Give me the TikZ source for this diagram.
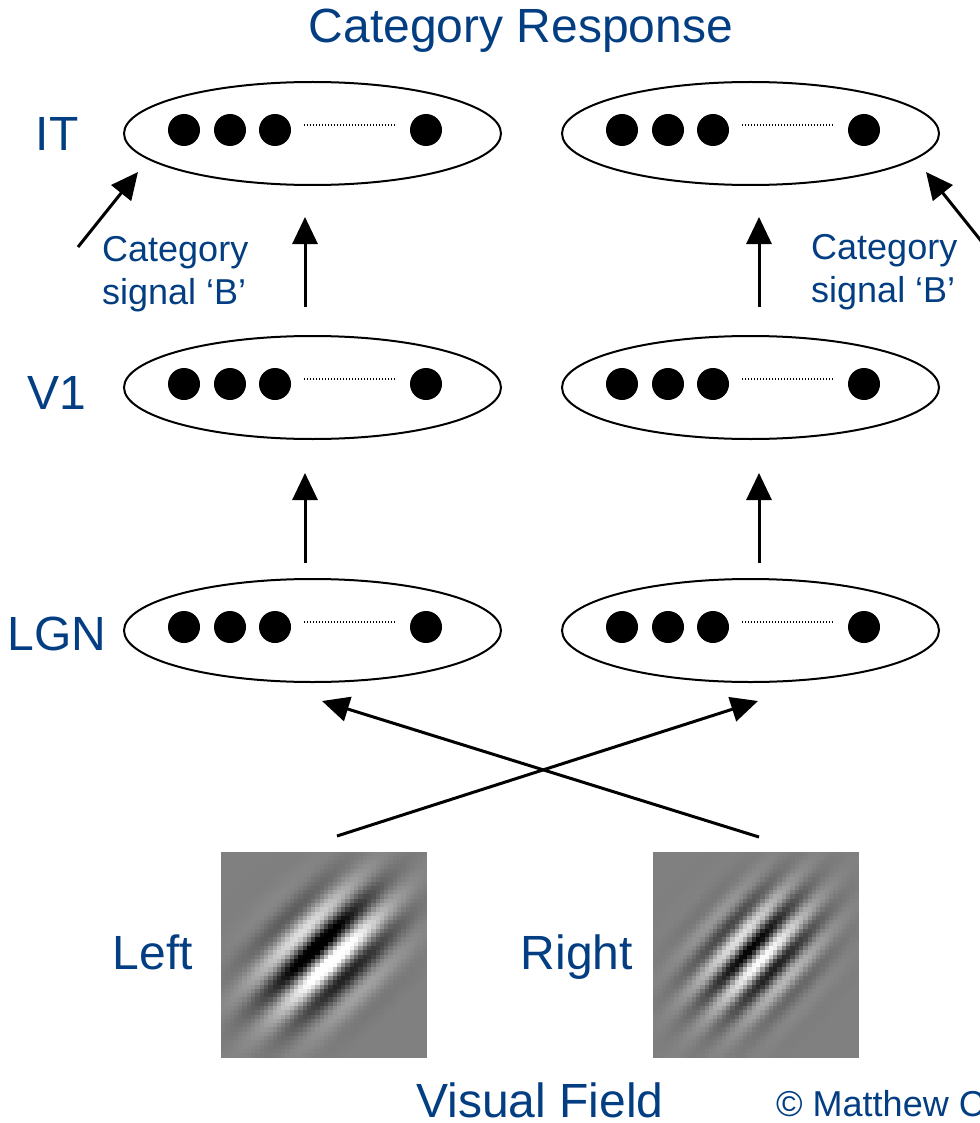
\documentclass[tikz,border=0pt]{standalone}
\usepackage{fontspec}
\setmainfont{Liberation Sans}
\usetikzlibrary{arrows.meta,shapes.geometric}
\definecolor{labelblue}{RGB}{4,62,130}

% Gabor patch drawn as a grid of grey cells.
% #1,#2 centre; #3 wavelength; #4 stripe angle; #5 sigma across; #6 sigma along; #7 amplitude
\newcommand\gaborpatch[7]{%
  \pgfmathsetmacro\gbK{360/#3}%
  \pgfmathsetmacro\gbS{sin(#4)}%
  \pgfmathsetmacro\gbC{cos(#4)}%
  \begin{scope}
    \clip (#1-103,#2-103) rectangle (#1+103,#2+103);
    \fill[black!50] (#1-103,#2-103) rectangle (#1+103,#2+103);
    \foreach \i in {0,...,47}{
      \pgfmathsetmacro\gbX{(\i-23.5)*4.2917}
      \foreach \j in {0,...,47}{
        \pgfmathsetmacro\gbY{(\j-23.5)*4.2917}
        \pgfmathsetmacro\gbU{\gbX*\gbS+\gbY*\gbC}
        \pgfmathsetmacro\gbV{\gbX*\gbC-\gbY*\gbS}
        \pgfmathsetmacro\gbL{max(0,min(1,0.5+#7*exp(-0.5*((\gbU/#5)^2+(\gbV/#6)^2))*sin(\gbK*\gbU)))}
        \definecolor{gcell}{gray}{\gbL}
        \fill[gcell] (#1+\gbX-2.15,#2+\gbY-2.15) rectangle ++(4.6,4.6);
      }
    }
  \end{scope}
}

\begin{document}
\begin{tikzpicture}[x=1pt,y=-1pt,
  layer/.style={draw, line width=2pt, ellipse, minimum width=377pt, minimum height=103pt, inner sep=0pt},
  unit/.style={circle, fill=black, minimum size=32pt, inner sep=0pt},
  dotline/.style={line width=1.2pt, dash pattern=on 1pt off 2pt},
  arr/.style={line width=3pt, -{Triangle[length=27pt,width=25pt]}},
  biglabel/.style={text=labelblue, font=\fontsize{48}{58}\selectfont, anchor=base, inner sep=0pt},
  smalllabel/.style={text=labelblue, font=\fontsize{36}{43}\selectfont, anchor=base west, inner sep=0pt}
]
\useasboundingbox (0,0) rectangle (979,1123);

% layers of units
\node[layer] (itL)  at (312.5,133.5) {};
\node[layer] (itR)  at (750.5,133.5) {};
\node[layer] (v1L)  at (312.5,387.5) {};
\node[layer] (v1R)  at (750.5,387.5) {};
\node[layer] (lgnL) at (312.5,630.5) {};
\node[layer] (lgnR) at (750.5,630.5) {};

\foreach \L in {itL,itR,v1L,v1R,lgnL,lgnR}{
  \foreach \dx in {-128.5,-82.5,-37.5,113.5}
    \node[unit] at ([shift={(\dx,-3.5)}]\L.center) {};
  \draw[dotline] ([shift={(-8.5,-8.5)}]\L.center) -- ([shift={(82.5,-8.5)}]\L.center);
}

% titles and layer labels
\node[biglabel] (title) at (521,43) {Category Response};
\node[biglabel] (labIT)  at (57,151) {IT};
\node[biglabel] (labV1)  at (57,409) {V1};
\node[biglabel] (labLGN) at (57,650) {LGN};
\node[biglabel] (labLeft)  at (153,969) {Left};
\node[biglabel] (labRight) at (577,969) {Right};
\node[biglabel] (labVF) at (540,1117) {Visual Field};
\node[smalllabel] (copy) at (776,1116) {© Matthew C};

\node[smalllabel] (sigL1) at (102,261) {Category};
\node[smalllabel] (sigL2) at (102,304) {signal ‘B’};
\node[smalllabel] (sigR1) at (811,259) {Category};
\node[smalllabel] (sigR2) at (811,302) {signal ‘B’};

% arrow end points
\coordinate (aL1s) at (305,307); \coordinate (aL1e) at (305,217);
\coordinate (aR1s) at (759,307); \coordinate (aR1e) at (759,217);
\coordinate (aL2s) at (305,563); \coordinate (aL2e) at (305,473);
\coordinate (aR2s) at (759,563); \coordinate (aR2e) at (759,473);
\coordinate (xLs) at (337,836);  \coordinate (xLe) at (758,701);
\coordinate (xRs) at (759,837);  \coordinate (xRe) at (322,701);
\coordinate (cLs) at (78,247);   \coordinate (cLe) at (138,172);
\coordinate (cRs) at (986,247);  \coordinate (cRe) at (926,172);

\draw[arr] (aL1s) -- (aL1e);
\draw[arr] (aR1s) -- (aR1e);
\draw[arr] (aL2s) -- (aL2e);
\draw[arr] (aR2s) -- (aR2e);
\draw[arr] (xLs) -- (xLe);
\draw[arr] (xRs) -- (xRe);
\draw[arr] (cLs) -- (cLe);
\draw[arr] (cRs) -- (cRe);

% stimuli
\gaborpatch{324}{954.5}{44}{44}{30}{50}{0.66}
\gaborpatch{756}{954.5}{32}{47}{30}{46}{0.52}
\end{tikzpicture}
\end{document}
